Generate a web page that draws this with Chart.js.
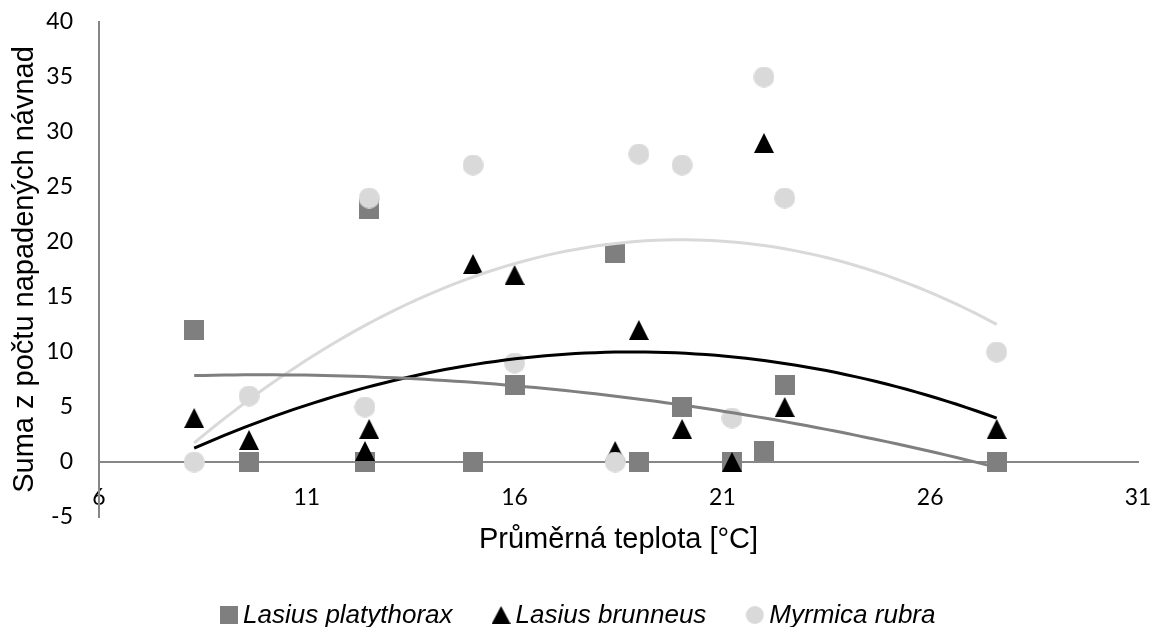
<!DOCTYPE html>
<html>
<head>
<meta charset="utf-8">
<script src="https://cdn.jsdelivr.net/npm/chart.js@4/dist/chart.umd.min.js"></script>
<style>
  html, body { margin: 0; padding: 0; background: #ffffff; }
  #wrap { width: 1159px; height: 627px; }
</style>
</head>
<body>
<div id="wrap"><canvas id="chart" width="1159" height="627"></canvas></div>
<script>
// Mean temperature of each site visit [°C]
const temperatures = [8.29, 9.61, 12.40, 12.50, 15.0, 16.0, 18.42, 18.99, 20.03, 21.23, 22.0, 22.5, 27.6];
// Number of occupied baits per species at each visit
const lasiusPlatythorax = [12, 0, 0, 23, 0, 7, 19, 0, 5, 0, 1, 7, 0];
const lasiusBrunneus    = [4, 2, 1, 3, 18, 17, 1, 12, 3, 0, 29, 5, 3];
const myrmicaRubra      = [0, 6, 5, 24, 27, 9, 0, 28, 27, 4, 35, 24, 10];
const seriesNames = ['Lasius platythorax', 'Lasius brunneus', 'Myrmica rubra'];
const xTicks = [6, 11, 16, 21, 26, 31];
const yTicks = [-5, 0, 5, 10, 15, 20, 25, 30, 35, 40];
const xTitle = 'Průměrná teplota [°C]';
const yTitle = 'Suma z počtu napadených návnad';

const COLORS = { platythorax: '#7f7f7f', brunneus: '#000000', rubra: '#d9d9d9', axis: '#868686' };

// Small canvases used as point styles (square, triangle, circle)
function markerCanvas(shape, w, h, color) {
  const c = document.createElement('canvas');
  c.width = w; c.height = h;
  const g = c.getContext('2d');
  g.fillStyle = color;
  g.beginPath();
  if (shape === 'square') {
    g.rect(0, 0, w, h);
  } else if (shape === 'triangle') {
    g.moveTo(w / 2, 0); g.lineTo(w, h); g.lineTo(0, h); g.closePath();
  } else {
    g.arc(w / 2, h / 2, Math.min(w, h) / 2, 0, Math.PI * 2);
  }
  g.fill();
  return c;
}

// Second-order least-squares trend through a series
function quadFit(xs, ys) {
  let s = [0, 0, 0, 0, 0], t = [0, 0, 0];
  xs.forEach((x, i) => {
    const y = ys[i];
    for (let k = 0; k < 5; k++) s[k] += Math.pow(x, k);
    for (let k = 0; k < 3; k++) t[k] += y * Math.pow(x, k);
  });
  const M = [[s[0], s[1], s[2], t[0]], [s[1], s[2], s[3], t[1]], [s[2], s[3], s[4], t[2]]];
  for (let i = 0; i < 3; i++) {
    let p = i;
    for (let r = i + 1; r < 3; r++) if (Math.abs(M[r][i]) > Math.abs(M[p][i])) p = r;
    [M[i], M[p]] = [M[p], M[i]];
    for (let r = 0; r < 3; r++) {
      if (r === i) continue;
      const f = M[r][i] / M[i][i];
      for (let c = i; c < 4; c++) M[r][c] -= f * M[i][c];
    }
  }
  return [M[0][3] / M[0][0], M[1][3] / M[1][1], M[2][3] / M[2][2]];
}
function trendPoints(xs, ys) {
  const [a, b, c] = quadFit(xs, ys);
  const lo = Math.min(...xs), hi = Math.max(...xs), n = 80, pts = [];
  for (let i = 0; i <= n; i++) {
    const x = lo + (hi - lo) * i / n;
    pts.push({ x, y: a + b * x + c * x * x });
  }
  return pts;
}
const toPoints = ys => temperatures.map((x, i) => ({ x, y: ys[i] }));

const speciesDefs = [
  { name: seriesNames[0], values: lasiusPlatythorax, shape: 'square',   color: COLORS.platythorax, order: 3 },
  { name: seriesNames[1], values: lasiusBrunneus,    shape: 'triangle', color: COLORS.brunneus,    order: 2 },
  { name: seriesNames[2], values: myrmicaRubra,      shape: 'circle',   color: COLORS.rubra,       order: 1 }
];

const datasets = [];
speciesDefs.forEach(s => {
  datasets.push({
    label: s.name,
    data: toPoints(s.values),
    pointStyle: markerCanvas(s.shape, s.shape === 'circle' ? 21 : 20, s.shape === 'circle' ? 21 : 20, s.color),
    showLine: false,
    order: s.order
  });
});
speciesDefs.forEach(s => {
  datasets.push({
    label: s.name + ' (trend)',
    data: trendPoints(temperatures, s.values),
    showLine: true,
    borderColor: s.color,
    borderWidth: 3,
    pointRadius: 0,
    tension: 0,
    fill: false,
    order: 0
  });
});

const titleFont = '"Liberation Sans", Arial, sans-serif';
const tickFont = { family: 'Lato, "Liberation Sans", sans-serif', size: 23 };

// X-axis caption and the series key along the bottom
const captionAndKey = {
  id: 'captionAndKey',
  afterDraw(chart) {
    const ctx = chart.ctx, ca = chart.chartArea;
    ctx.save();
    ctx.fillStyle = '#000';
    ctx.font = '29px ' + titleFont;
    ctx.textAlign = 'center';
    ctx.textBaseline = 'middle';
    ctx.fillText(xTitle, (ca.left + ca.right) / 2, ca.bottom + 23);

    ctx.font = 'italic 26px ' + titleFont;
    ctx.textAlign = 'left';
    ctx.textBaseline = 'alphabetic';
    const base = 623;
    let x = 220;
    speciesDefs.forEach(s => {
      const mw = s.shape === 'square' ? 18 : 19;
      const m = markerCanvas(s.shape, mw, 18, s.color);
      ctx.drawImage(m, x, base - 17);
      x += mw + 5;
      ctx.fillText(s.name, x, base);
      x += ctx.measureText(s.name).width + 39;
    });
    ctx.restore();
  }
};

new Chart(document.getElementById('chart'), {
  type: 'scatter',
  data: { datasets },
  options: {
    responsive: false,
    animation: false,
    devicePixelRatio: 1,
    layout: { padding: { top: 22, right: 21, bottom: 110, left: 0 } },
    plugins: { legend: { display: false }, tooltip: { enabled: false } },
    scales: {
      x: {
        type: 'linear',
        position: { y: 0 },
        min: xTicks[0],
        max: xTicks[xTicks.length - 1],
        afterBuildTicks: s => { s.ticks = xTicks.map(v => ({ value: v })); },
        afterFit: s => { s.paddingLeft = 0; s.paddingRight = 0; },
        grid: { display: false, drawTicks: false },
        border: { display: true, color: COLORS.axis, width: 2 },
        ticks: { font: tickFont, color: '#000', padding: 22, maxRotation: 0, autoSkip: false }
      },
      y: {
        type: 'linear',
        position: 'left',
        min: yTicks[0],
        max: yTicks[yTicks.length - 1],
        afterBuildTicks: s => { s.ticks = yTicks.map(v => ({ value: v })); },
        afterFit: s => { s.width = 99; s.paddingTop = 0; s.paddingBottom = 0; },
        grid: { display: false, drawTicks: false },
        border: { display: true, color: COLORS.axis, width: 2 },
        ticks: { font: tickFont, color: '#000', padding: 26, autoSkip: false },
        title: {
          display: true,
          text: yTitle,
          color: '#000',
          font: { family: titleFont, size: 29 },
          padding: { top: 8, bottom: 0 }
        }
      }
    }
  },
  plugins: [captionAndKey]
});
</script>
</body>
</html>
